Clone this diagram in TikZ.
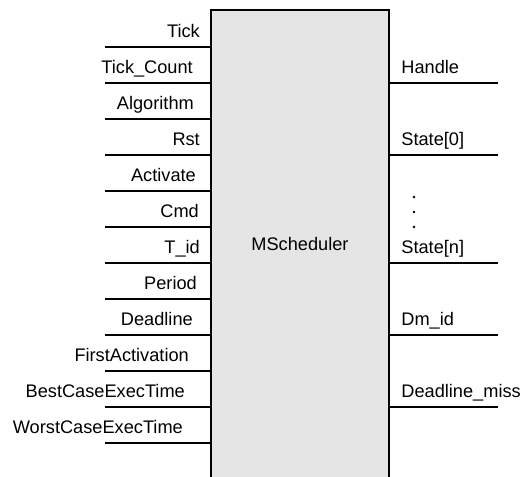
\documentclass[tikz,border=0pt]{standalone}
\usepackage{fontspec}
\setmainfont{Liberation Sans}
\usepackage{tikz}
\usetikzlibrary{calc}

\begin{document}
\begin{tikzpicture}[x=1pt,y=-1pt,
  lbl/.style={inner sep=0pt,font=\fontsize{18.2}{20}\selectfont},
  pin/.style={line width=1.2pt},
  blockbox/.style={fill=black!10,minimum width=178pt,minimum height=468pt,inner sep=0pt,
    font=\fontsize{18.2}{20}\selectfont}]
\clip (0,0) rectangle (520,477);
\useasboundingbox (0,0) rectangle (520,477);
% block
\node[blockbox] (sched) at (300,244) {MScheduler};
\draw[line width=2pt] (sched.south west) |- (sched.north) -| (sched.south east);
% inputs
\foreach \name/\xr [count=\i from 0] in {Tick/200,Tick\_Count/193,Algorithm/194,Rst/200,Activate/196,Cmd/199,T\_id/200,Period/197,Deadline/193,FirstActivation/189,BestCaseExecTime/185,WorstCaseExecTime/183}{
  \coordinate (inL\i) at (105,47+36*\i);
  \draw[pin] (inL\i) -- (inL\i -| sched.west);
  \node[lbl,anchor=base east] (in\i) at (\xr,37+36*\i) {\name};
}
% outputs
\foreach \name/\k in {Handle/1,State[0]/3,State[n]/6,Dm\_id/8,Deadline\_miss/10}{
  \coordinate (outR\k) at (498,47+36*\k);
  \draw[pin] (outR\k -| sched.east) -- (outR\k);
  \node[lbl,anchor=base west] (out\k) at ($(outR\k -| sched.east)+(12,-10)$) {\name};
}
% dots
\foreach \y in {197,212,227}
  \fill (414,\y) circle (1.3pt);
\end{tikzpicture}
\end{document}
